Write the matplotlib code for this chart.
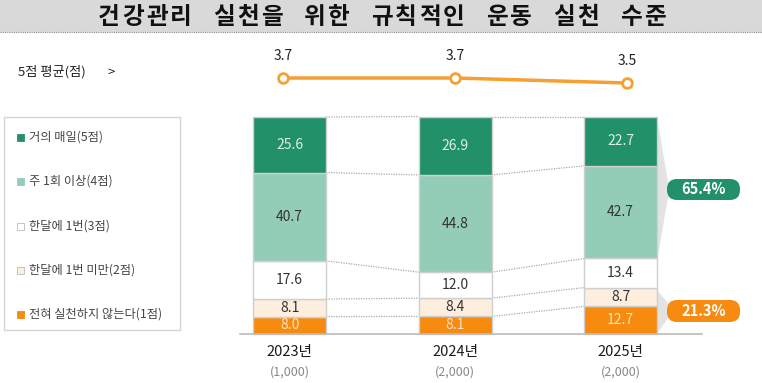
import matplotlib
matplotlib.use("Agg")
import matplotlib.pyplot as plt
from matplotlib.patches import Rectangle, FancyBboxPatch, Polygon
import numpy as np

plt.rcParams['font.family'] = ['Noto Sans CJK KR', 'DejaVu Sans']

# 데이터
years = ["2023년", "2024년", "2025년"]
samples = ["(1,000)", "(2,000)", "(2,000)"]
avg_scores = [3.7, 3.7, 3.5]
categories = ["전혀 실천하지 않는다(1점)", "한달에 1번 미만(2점)", "한달에 1번(3점)",
              "주 1회 이상(4점)", "거의 매일(5점)"]
score1 = [8.0, 8.1, 12.7]
score2 = [8.1, 8.4, 8.7]
score3 = [17.6, 12.0, 13.4]
score4 = [40.7, 44.8, 42.7]
score5 = [25.6, 26.9, 22.7]
summary_high = "65.4%"
summary_low = "21.3%"

series = [score1, score2, score3, score4, score5]
colors = ["#F68B0F", "#FDEEDD", "#FFFFFF", "#93CDB8", "#22916A"]
txt_colors = ["#FDE3C2", "#333333", "#333333", "#333333", "#DDEEE6"]

W, H = 762, 383
fig = plt.figure(figsize=(W / 100, H / 100), dpi=100)

# 배경용 축 (픽셀 좌표)
bg = fig.add_axes([0, 0, 1, 1])
bg.set_xlim(0, W)
bg.set_ylim(H, 0)
bg.axis("off")

# 제목 바
bg.add_patch(Rectangle((0, 0), W, 31, color="#D9D9D9", zorder=0))
bg.plot([0, W], [32, 32], color="#888888", lw=0.8, ls=(0, (1, 1)))
title = "건강관리 실천을 위한 규칙적인 운동 실천 수준"
x = 98
for ch in title:
    if ch == " ":
        x += 19
        continue
    bg.text(x + 11, 17, ch, ha="center", va="center", fontsize=17,
            fontweight="bold", color="#111111")
    x += 24

# 5점 평균 라벨
bg.text(18, 72, "5점 평균(점)", ha="left", va="center", fontsize=9.5, color="#222222")
bg.text(107, 72, ">", ha="left", va="center", fontsize=9.5, color="#222222")

# 범례 박스
bg.add_patch(Rectangle((4, 117), 176, 213, fill=False, ec="#D5D5D5", lw=1))
leg_y = [137, 181, 226, 270, 314]
for i, y in enumerate(leg_y):
    k = 4 - i
    bg.add_patch(Rectangle((17, y - 3.5), 7, 7, fc=colors[k],
                           ec="#BBBBBB" if k in (1, 2) else colors[k], lw=0.6))
    bg.text(29, y, categories[k], ha="left", va="center", fontsize=8.8, color="#444444")

# 누적 막대
ax = fig.add_axes([240 / W, (H - 334) / H, 465 / W, 217 / H])
ax.set_xlim(-0.30, 2.51)
ax.set_ylim(0, 100)
ax.axis("off")
xs = np.arange(len(years))
bw = 0.44
bottom = np.zeros(len(years))
cums = [bottom.copy()]
for k, vals in enumerate(series):
    vals = np.array(vals)
    ax.bar(xs, vals, bw, bottom=bottom, color=colors[k], edgecolor="#CFCFCF",
           linewidth=1, zorder=3, clip_on=False)
    for i in range(len(xs)):
        ax.text(xs[i], bottom[i] + vals[i] / 2, f"{vals[i]:.1f}", ha="center",
                va="center", fontsize=10, color=txt_colors[k], zorder=4)
    bottom = bottom + vals
    cums.append(bottom.copy())

# 막대 사이 점선
for c in cums[1:]:
    for i in range(len(xs) - 1):
        ax.plot([xs[i] + bw / 2, xs[i + 1] - bw / 2], [c[i], c[i + 1]],
                color="#AAAAAA", lw=0.9, ls=(0, (1, 1)), zorder=2, clip_on=False)

ax.plot([-0.30, 2.49], [0, 0], color="#BBBBBB", lw=1.2, clip_on=False, zorder=5)

for i in range(len(xs)):
    ax.text(xs[i], -8.5, years[i], ha="center", va="center", fontsize=10.5,
            fontweight="medium", color="#1A1A1A", clip_on=False)
    ax.text(xs[i], -17.5, samples[i], ha="center", va="center", fontsize=9,
            color="#888888", clip_on=False)

# 요약 말풍선
bg.add_patch(Polygon([(657, 117), (668, 182), (668, 197), (657, 262)],
                     closed=True, fc="#DCDCDC", ec="none", alpha=0.8, zorder=1))
bg.add_patch(Polygon([(657, 290), (668, 303), (668, 318), (657, 334)],
                     closed=True, fc="#DCDCDC", ec="none", alpha=0.8, zorder=1))
bg.add_patch(FancyBboxPatch((667, 179), 73, 21, boxstyle="round,pad=0,rounding_size=10",
                            fc="#22916A", ec="none", zorder=2))
bg.text(703.5, 189.5, summary_high, ha="center", va="center", fontsize=10.5,
        fontweight="bold", color="white", zorder=3)
bg.add_patch(FancyBboxPatch((667, 300), 73, 22, boxstyle="round,pad=0,rounding_size=10",
                            fc="#F68B0F", ec="none", zorder=2))
bg.text(703.5, 311, summary_low, ha="center", va="center", fontsize=10.5,
        fontweight="bold", color="white", zorder=3)

# 5점 평균 선
lx = fig.add_axes([240 / W, (H - 105) / H, 465 / W, 60 / H])
lx.set_xlim(-0.25, 2.453)
lx.set_ylim(2.62, 5.02)
lx.axis("off")
lx.plot(xs, avg_scores, color="#F5A033", lw=2.5, marker="o", markersize=7,
        markerfacecolor="white", markeredgecolor="#F5A033", markeredgewidth=2,
        clip_on=False)
for i, v in enumerate(avg_scores):
    lx.annotate(f"{v:.1f}", (xs[i], v), xytext=(0, 16), textcoords="offset points",
                ha="center", va="center", fontsize=10, color="#222222")

fig.savefig("out.png", dpi=100)
